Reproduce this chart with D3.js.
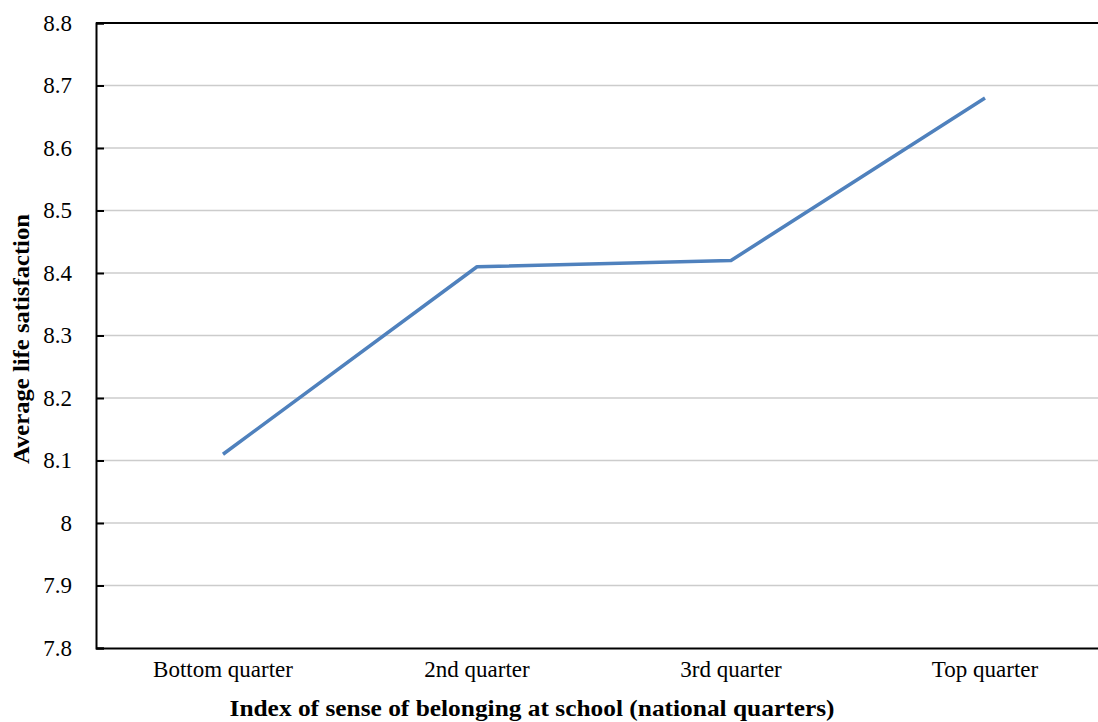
<!DOCTYPE html>
<html>
<head>
<meta charset="utf-8">
<script src="https://cdn.jsdelivr.net/npm/d3@7"></script>
<style>
  body { margin: 0; background: #fff; }
</style>
</head>
<body>
<div id="chart"></div>
<script>
// chart data
const categories = ["Bottom quarter", "2nd quarter", "3rd quarter", "Top quarter"];
const lifeSatisfaction = [8.11, 8.41, 8.42, 8.68];
const yTicks = [7.8, 7.9, 8, 8.1, 8.2, 8.3, 8.4, 8.5, 8.6, 8.7, 8.8];

const width = 1098;
const height = 722;
const margin = { top: 23, left: 96, bottom: 74 };
const serif = '"Liberation Serif", "Times New Roman", serif';

const svg = d3.select("#chart")
              .append("svg")
              .attr("width", width)
              .attr("height", height);

// the plot area runs past the right edge, like the cropped original
const x = d3.scaleBand()
            .domain(categories)
            .range([margin.left, margin.left + 1016]);

const y = d3.scaleLinear()
            .domain([7.8, 8.8])
            .range([height - margin.bottom, margin.top]);

// gridlines
svg.append("g")
   .selectAll("line")
   .data(yTicks.filter(t => t > 7.8 && t < 8.8))
   .enter()
   .append("line")
   .attr("x1", margin.left)
   .attr("x2", width)
   .attr("y1", d => y(d))
   .attr("y2", d => y(d))
   .attr("stroke", "#cccccc")
   .attr("stroke-width", 1.5);

// top border
svg.append("line")
   .attr("x1", margin.left)
   .attr("x2", width)
   .attr("y1", y(8.8))
   .attr("y2", y(8.8))
   .attr("stroke", "#000")
   .attr("stroke-width", 2);

// y axis
const yAxis = svg.append("g")
                 .attr("transform", `translate(${margin.left},0)`)
                 .attr("font-family", serif)
                 .attr("font-size", 23)
                 .call(d3.axisLeft(y).tickValues(yTicks).tickSize(-8).tickPadding(24).tickFormat(d3.format("~g")));
yAxis.attr("font-family", serif).attr("font-size", 23);
yAxis.select(".domain").attr("stroke", "#000").attr("stroke-width", 2);
yAxis.selectAll(".tick line").attr("stroke", "#000").attr("stroke-width", 2);
yAxis.selectAll("text").attr("fill", "#000");

// x axis
const xAxis = svg.append("g")
                 .attr("transform", `translate(0,${y(7.8)})`)
                 .call(d3.axisBottom(x).tickSize(0).tickPadding(13));
xAxis.attr("font-family", serif).attr("font-size", 23);
xAxis.select(".domain").attr("stroke", "#000").attr("stroke-width", 2);
xAxis.selectAll("text").attr("fill", "#000");

// line
const line = d3.line()
               .x((d, i) => x(categories[i]) + x.bandwidth() / 2)
               .y(d => y(d));

svg.append("path")
   .datum(lifeSatisfaction)
   .attr("d", line)
   .attr("fill", "none")
   .attr("stroke", "#4f81bd")
   .attr("stroke-width", 3.5)
   .attr("stroke-linejoin", "round");

// axis titles
svg.append("text")
   .attr("x", 532)
   .attr("y", 716)
   .attr("text-anchor", "middle")
   .attr("textLength", 605)
   .attr("lengthAdjust", "spacingAndGlyphs")
   .attr("font-family", serif)
   .attr("font-size", 24)
   .attr("font-weight", "bold")
   .text("Index of sense of belonging at school (national quarters)");

svg.append("text")
   .attr("transform", "translate(29,339) rotate(-90)")
   .attr("text-anchor", "middle")
   .attr("textLength", 250)
   .attr("lengthAdjust", "spacingAndGlyphs")
   .attr("font-family", serif)
   .attr("font-size", 24)
   .attr("font-weight", "bold")
   .text("Average life satisfaction");
</script>
</body>
</html>
